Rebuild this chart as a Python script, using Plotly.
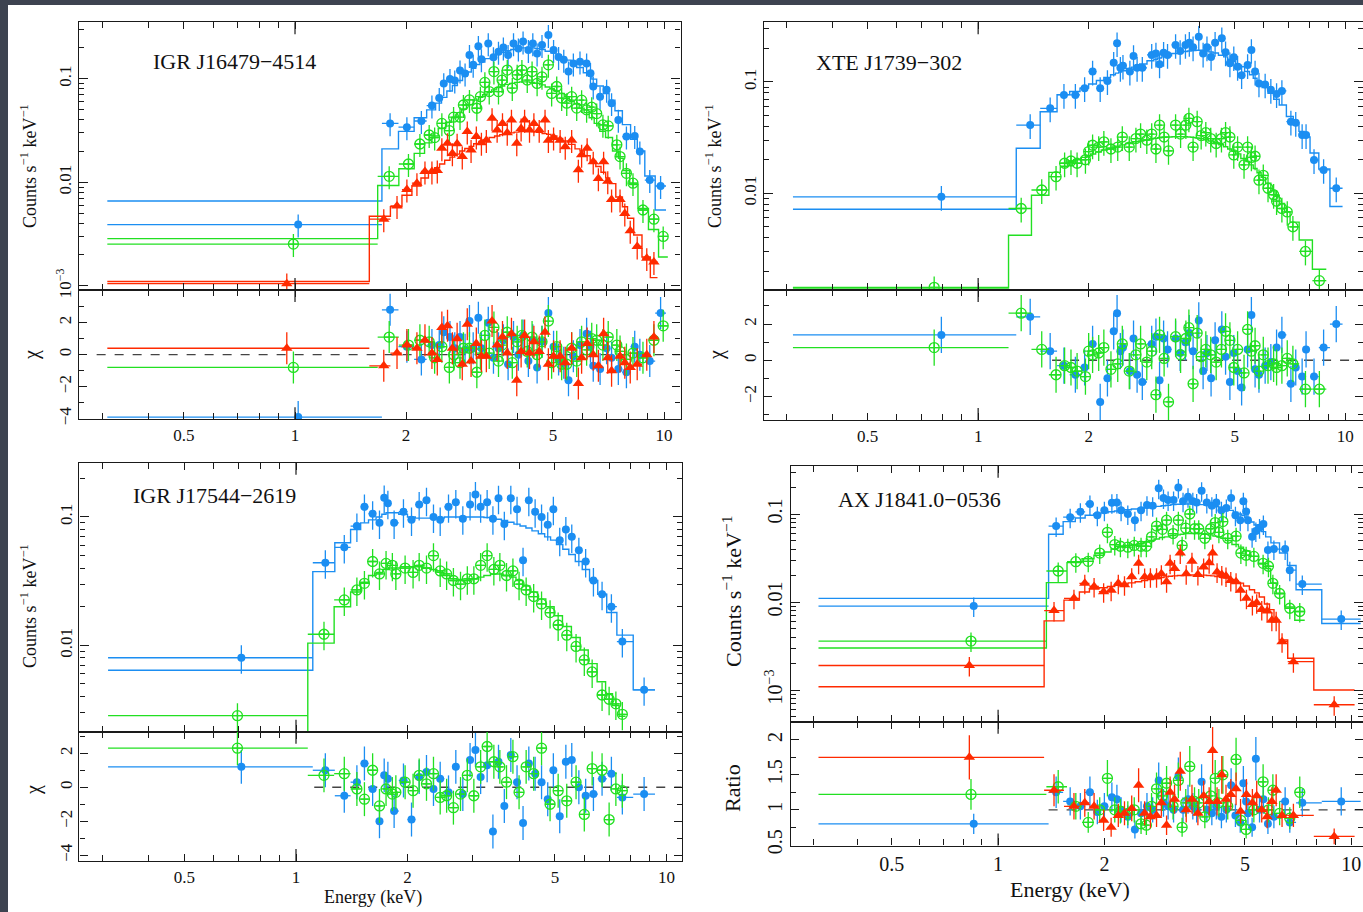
import numpy as np
import plotly.graph_objects as go

W, H = 1363, 912
FONT = "Liberation Serif"
BLUE = "#1b8ef2"
GREEN = "#22e022"
RED = "#ff2a00"
INK = "#1a1a1a"

# ---------------- Panel A : IGR J16479-4514 ----------------
A_blue_E = [1.02, 1.81, 2.01, 2.20, 2.35, 2.46, 2.53, 2.63, 2.71, 2.80,
            2.89, 2.97, 3.04, 3.14, 3.20, 3.34, 3.45, 3.56, 3.67, 3.78,
            3.91, 4.03, 4.15, 4.29, 4.41, 4.53, 4.67, 4.86, 5.02, 5.18,
            5.35, 5.51, 5.68, 5.92, 6.17, 6.32, 6.43, 6.71, 6.99, 7.21,
            7.52, 7.91, 8.33, 8.60, 9.15, 9.79]
A_blue_y = [0.0039, 0.037, 0.034, 0.039, 0.055, 0.065, 0.090, 0.099, 0.096, 0.120,
            0.112, 0.169, 0.136, 0.206, 0.154, 0.219, 0.161, 0.182, 0.200, 0.169,
            0.219, 0.195, 0.228, 0.189, 0.219, 0.175, 0.211, 0.264, 0.189, 0.162,
            0.152, 0.117, 0.140, 0.146, 0.140, 0.113, 0.084, 0.067, 0.078, 0.058,
            0.040, 0.0276, 0.028, 0.0198, 0.0105, 0.0092]
A_blue_m = [0.0066, 0.021, 0.031, 0.042, 0.050, 0.058, 0.066, 0.076, 0.086, 0.096,
            0.106, 0.116, 0.126, 0.137, 0.145, 0.156, 0.165, 0.173, 0.180, 0.186,
            0.191, 0.195, 0.198, 0.199, 0.198, 0.195, 0.191, 0.184, 0.177, 0.169,
            0.160, 0.151, 0.141, 0.128, 0.114, 0.106, 0.099, 0.085, 0.072, 0.062,
            0.049, 0.036, 0.026, 0.020, 0.0115, 0.0054]
A_blue_r = [-3.9, 2.8, 0.5, -0.3, 0.6, 0.6, 1.4, 1.1, 0.4, 1.1,
            0.3, 2.1, 0.4, 2.3, 0.4, 2.0, -0.2, 0.4, 0.9, -0.6,
            1.1, 0.0, 1.2, -0.4, 0.9, -0.8, 0.8, 2.6, 0.5, -0.3,
            -0.5, -1.6, -0.1, 0.6, 1.3, 0.5, -0.7, -0.9, 0.4, -0.2,
            -0.9, -1.1, 0.5, 0.0, -0.4, 2.6]
A_blue_bin0 = [0.31, 1.72]

A_green_E = [0.99, 1.80, 2.03, 2.18, 2.31, 2.39, 2.50, 2.62, 2.69, 2.80,
             2.86, 2.97, 3.11, 3.18, 3.27, 3.36, 3.46, 3.56, 3.64, 3.76,
             3.88, 4.00, 4.12, 4.26, 4.39, 4.53, 4.67, 4.86, 4.96, 5.12,
             5.28, 5.45, 5.62, 5.80, 5.98, 6.17, 6.37, 6.57, 6.83, 7.06,
             7.45, 7.60, 7.91, 8.24, 8.77, 9.39, 9.95]
A_green_y = [0.00253, 0.0114, 0.0150, 0.0234, 0.0286, 0.0270, 0.0370, 0.0315, 0.0425, 0.0425,
             0.0557, 0.0623, 0.0518, 0.0670, 0.0920, 0.0750, 0.117, 0.0750, 0.0970, 0.121,
             0.0810, 0.109, 0.121, 0.0970, 0.117, 0.0900, 0.104, 0.136, 0.0720, 0.0840,
             0.0650, 0.0580, 0.0670, 0.0520, 0.0620, 0.0500, 0.0530, 0.0460, 0.0358, 0.0350,
             0.0230, 0.0177, 0.0122, 0.0098, 0.0054, 0.0044, 0.0030]
A_green_m = [0.00286, 0.0093, 0.0135, 0.019, 0.024, 0.028, 0.033, 0.038, 0.042, 0.047,
             0.051, 0.056, 0.062, 0.066, 0.070, 0.074, 0.078, 0.082, 0.085, 0.088,
             0.090, 0.092, 0.093, 0.093, 0.092, 0.090, 0.087, 0.083, 0.080, 0.076,
             0.072, 0.067, 0.062, 0.057, 0.052, 0.047, 0.042, 0.037, 0.031, 0.027,
             0.020, 0.017, 0.013, 0.0095, 0.0056, 0.0035, 0.0019]
A_green_r = [-0.8, 1.1, 0.6, 0.9, 0.8, -0.2, 0.5, -0.8, 0.0, -0.5,
             0.4, 0.4, -1.1, 0.1, 1.2, 0.1, 1.7, -0.4, 0.6, 1.4,
             -0.5, 0.8, 1.2, 0.2, 1.1, 0.0, 0.8, 2.1, -0.5, 0.5,
             -0.6, -0.6, 0.4, -0.4, 0.8, 0.3, 1.0, 0.9, 0.6, 1.1,
             0.6, 0.2, -0.3, 0.1, -0.2, 0.9, 1.8]
A_green_bin0 = [0.31, 1.675]

A_red_E = [0.95, 1.74, 1.89, 2.01, 2.14, 2.25, 2.35, 2.43, 2.50, 2.59,
           2.67, 2.75, 2.84, 2.93, 3.00, 3.10, 3.20, 3.30, 3.42, 3.53,
           3.65, 3.76, 3.86, 3.99, 4.10, 4.19, 4.32, 4.44, 4.59, 4.76,
           4.86, 5.02, 5.23, 5.40, 5.62, 5.86, 5.98, 6.19, 6.43, 6.64,
           6.86, 7.04, 7.21, 7.60, 7.83, 8.10, 8.46, 8.98, 9.39]
A_red_y = [0.00105, 0.0044, 0.0059, 0.0085, 0.0098, 0.0127, 0.0127, 0.0130, 0.0213, 0.0238,
           0.0190, 0.0235, 0.0177, 0.0309, 0.0205, 0.0276, 0.0240, 0.0255, 0.0415, 0.0320,
           0.0370, 0.0300, 0.0400, 0.0238, 0.0330, 0.0400, 0.0320, 0.0370, 0.0320, 0.0400,
           0.0255, 0.0270, 0.0255, 0.0220, 0.0255, 0.0132, 0.0184, 0.0213, 0.0158, 0.0109,
           0.0158, 0.0102, 0.0068, 0.0068, 0.0050, 0.0034, 0.0024, 0.00185, 0.0017]
A_red_m = [0.0011, 0.0047, 0.0058, 0.0075, 0.0092, 0.0110, 0.0125, 0.0138, 0.0150, 0.0163,
           0.0175, 0.0187, 0.0200, 0.0212, 0.0222, 0.0235, 0.0247, 0.0258, 0.0270, 0.0280,
           0.0288, 0.0295, 0.0300, 0.0305, 0.0308, 0.0310, 0.0310, 0.0308, 0.0303, 0.0295,
           0.0290, 0.0280, 0.0265, 0.0250, 0.0232, 0.0210, 0.0200, 0.0180, 0.0160, 0.0142,
           0.0125, 0.0110, 0.0097, 0.0072, 0.0058, 0.0045, 0.0031, 0.0019, 0.0012]
A_red_r = [0.4, -0.7, 0.1, 0.6, 0.4, 0.9, 0.1, -0.3, 1.7, 1.8,
           0.4, 1.0, -0.6, 1.9, -0.4, 0.7, -0.1, -0.1, 2.1, 0.6,
           1.1, 0.1, 1.3, -1.6, 0.2, 1.2, 0.1, 0.8, 0.2, 1.4,
           -0.6, -0.1, -0.1, -0.5, 0.4, -1.8, -0.2, 0.7, 0.0, -0.7,
           1.3, -0.2, -1.0, -0.1, -0.5, -0.8, -0.6, 0.0, 1.1]
A_red_bin0 = [0.31, 1.59]

# ---------------- Panel B : XTE J1739-302 ----------------
B_blue_E = [0.794, 1.386, 1.571, 1.713, 1.840, 1.950, 2.050, 2.150, 2.250, 2.340,
            2.390, 2.440, 2.480, 2.590, 2.650, 2.710, 2.800, 2.970, 3.050, 3.120,
            3.200, 3.280, 3.450, 3.550, 3.670, 3.760, 3.850, 3.990, 4.100, 4.200,
            4.310, 4.420, 4.610, 4.720, 4.850, 4.970, 5.090, 5.220, 5.420, 5.550,
            5.680, 5.820, 6.050, 6.270, 6.500, 6.720, 7.110, 7.330, 7.630, 7.820,
            8.220, 8.730, 9.450]
B_blue_y = [0.0093, 0.041, 0.058, 0.0765, 0.0765, 0.088, 0.124, 0.088, 0.102, 0.149,
            0.223, 0.134, 0.140, 0.124, 0.171, 0.134, 0.134, 0.175, 0.180, 0.144,
            0.183, 0.175, 0.215, 0.190, 0.215, 0.225, 0.205, 0.255, 0.180, 0.205,
            0.168, 0.225, 0.247, 0.185, 0.147, 0.167, 0.137, 0.115, 0.142, 0.194,
            0.124, 0.097, 0.095, 0.085, 0.078, 0.083, 0.044, 0.043, 0.0334, 0.0334,
            0.0199, 0.0162, 0.0111]
B_blue_m = [0.00718, 0.0254, 0.054, 0.077, 0.082, 0.088, 0.096, 0.103, 0.110, 0.116,
            0.120, 0.123, 0.126, 0.132, 0.136, 0.140, 0.145, 0.155, 0.160, 0.164,
            0.168, 0.172, 0.180, 0.184, 0.188, 0.190, 0.192, 0.193, 0.192, 0.190,
            0.186, 0.182, 0.174, 0.168, 0.160, 0.153, 0.145, 0.137, 0.124, 0.116,
            0.108, 0.100, 0.089, 0.079, 0.070, 0.062, 0.049, 0.043, 0.036, 0.032,
            0.023, 0.0165, 0.0076]
B_blue_r = [1.4, 2.4, 0.5, -0.3, -0.8, -0.4, 0.9, -2.3, -1.0, 1.6,
            2.6, 0.5, 0.7, -0.6, 1.2, -0.8, -1.2, 0.9, 1.3, -1.1,
            1.2, 0.6, 1.2, 0.4, 1.0, 1.5, 0.5, 2.2, -0.6, 0.4,
            -1.0, 1.1, 1.7, 0.2, -1.2, 0.4, -0.6, -1.5, 0.6, 2.5,
            -0.5, -0.8, -0.3, -0.1, 0.7, 1.4, -1.3, -0.4, -0.9, 0.6,
            -0.9, 0.7, 2.0]
B_blue_bin0 = [0.313, 1.27]

B_green_E = [0.759, 1.31, 1.49, 1.63, 1.72, 1.79, 1.86, 1.96, 2.00, 2.05,
             2.13, 2.20, 2.30, 2.40, 2.47, 2.58, 2.69, 2.77, 2.88, 2.97,
             3.05, 3.12, 3.21, 3.30, 3.45, 3.56, 3.68, 3.75, 3.85, 3.95,
             4.05, 4.17, 4.30, 4.45, 4.60, 4.72, 4.85, 4.97, 5.09, 5.30,
             5.42, 5.55, 5.68, 5.82, 5.98, 6.16, 6.38, 6.50, 6.72, 6.95,
             7.20, 7.79, 8.50]
B_green_y = [0.00143, 0.0073, 0.0107, 0.0141, 0.0186, 0.0195, 0.0186, 0.0200, 0.0237, 0.0270,
             0.0260, 0.0290, 0.0250, 0.0260, 0.0320, 0.0260, 0.0310, 0.0340, 0.0300, 0.0340,
             0.0250, 0.0410, 0.0320, 0.0240, 0.0410, 0.0340, 0.0410, 0.0470, 0.0260, 0.0440,
             0.0330, 0.0350, 0.0310, 0.0280, 0.0310, 0.0350, 0.0320, 0.0221, 0.0260, 0.0180,
             0.0260, 0.0210, 0.0215, 0.0131, 0.0145, 0.0111, 0.0097, 0.0085, 0.0073, 0.0068,
             0.0050, 0.0030, 0.00164]
B_green_m = [0.00141, 0.0042, 0.0096, 0.0154, 0.0175, 0.0190, 0.0200, 0.0210, 0.0218, 0.0225,
             0.0235, 0.0245, 0.0255, 0.0265, 0.0272, 0.0280, 0.0290, 0.0295, 0.0302, 0.0308,
             0.0312, 0.0315, 0.0318, 0.0320, 0.0322, 0.0323, 0.0322, 0.0320, 0.0318, 0.0314,
             0.0310, 0.0303, 0.0295, 0.0285, 0.0273, 0.0262, 0.0250, 0.0238, 0.0226, 0.0205,
             0.0193, 0.0180, 0.0167, 0.0153, 0.0139, 0.0123, 0.0105, 0.0096, 0.0081, 0.0068,
             0.0055, 0.0038, 0.00208]
B_green_r = [0.7, 2.6, 0.6, -0.8, -0.3, -0.4, -0.6, -0.9, 0.5, 0.3,
             0.4, 0.7, -0.5, -0.2, 0.9, -0.6, 0.3, 0.9, -0.1, 0.5,
             -1.9, 1.4, 0.1, -2.3, 1.3, 0.3, 1.2, 1.8, -1.3, 1.5,
             0.2, 0.6, 0.3, -0.1, 0.6, 1.6, 1.1, -0.4, 0.6, -0.7,
             1.7, 0.5, 0.8, -0.6, 0.3, -0.3, -0.2, -0.4, -0.3, 0.1,
             -0.2, -1.6, -1.6]
B_green_bin0 = [0.313, 1.21]

# ---------------- Panel C : IGR J17544-2619 ----------------
C_blue_E = [0.712, 1.20, 1.35, 1.46, 1.53, 1.61, 1.68, 1.73, 1.77, 1.84,
            1.95, 2.05, 2.15, 2.25, 2.35, 2.45, 2.58, 2.70, 2.82, 2.95,
            3.05, 3.15, 3.28, 3.40, 3.52, 3.65, 3.80, 3.95, 4.10, 4.25,
            4.42, 4.60, 4.78, 4.95, 5.15, 5.35, 5.55, 5.80, 6.05, 6.35,
            6.70, 7.10, 7.60, 8.70]
C_blue_y = [0.0080, 0.044, 0.058, 0.085, 0.120, 0.106, 0.090, 0.141, 0.128, 0.090,
            0.110, 0.095, 0.125, 0.135, 0.100, 0.095, 0.120, 0.130, 0.097, 0.125,
            0.150, 0.120, 0.130, 0.097, 0.140, 0.088, 0.140, 0.115, 0.046, 0.135,
            0.110, 0.100, 0.087, 0.115, 0.066, 0.080, 0.070, 0.055, 0.045, 0.032,
            0.025, 0.020, 0.0107, 0.0045]
C_blue_m = [0.0064, 0.0375, 0.063, 0.080, 0.090, 0.095, 0.100, 0.105, 0.108, 0.108,
            0.105, 0.100, 0.098, 0.098, 0.098, 0.098, 0.100, 0.100, 0.100, 0.100,
            0.100, 0.100, 0.099, 0.098, 0.096, 0.094, 0.091, 0.088, 0.085, 0.082,
            0.078, 0.074, 0.070, 0.066, 0.061, 0.056, 0.051, 0.045, 0.039, 0.032,
            0.025, 0.018, 0.012, 0.0045]
C_blue_r = [1.2, 1.0, -0.5, 0.3, 1.4, -0.1, -2.0, 0.7, 0.5, -1.4,
            0.4, -1.9, 0.6, 0.9, -0.1, 0.5, -0.3, 1.2, -0.4, 1.6,
            2.2, 0.6, 1.3, -2.6, 1.5, -1.1, 1.9, 0.3, -2.1, 1.4,
            0.8, 0.3, -0.7, 1.0, -1.7, 1.5, 1.6, 0.0, -0.5, -0.4,
            0.5, 0.8, -0.6, -0.4]
C_blue_bin0 = [0.311, 1.11]

C_green_E = [0.695, 1.19, 1.35, 1.46, 1.53, 1.61, 1.68, 1.75, 1.82, 1.86,
             1.97, 2.07, 2.15, 2.25, 2.35, 2.45, 2.55, 2.66, 2.78, 2.90,
             3.02, 3.15, 3.28, 3.42, 3.55, 3.70, 3.85, 4.00, 4.18, 4.38,
             4.60, 4.85, 5.10, 5.38, 5.70, 6.00, 6.30, 6.70, 7.00, 7.30,
             7.60]
C_green_y = [0.00283, 0.0122, 0.0226, 0.027, 0.0304, 0.045, 0.036, 0.0435, 0.042, 0.036,
             0.040, 0.037, 0.042, 0.040, 0.050, 0.038, 0.036, 0.032, 0.030, 0.033,
             0.033, 0.042, 0.050, 0.039, 0.042, 0.035, 0.038, 0.030, 0.027, 0.024,
             0.021, 0.018, 0.0144, 0.012, 0.0098, 0.0077, 0.0062, 0.0041, 0.0038, 0.0035,
             0.0029]
C_green_m = [0.0015, 0.0104, 0.020, 0.026, 0.031, 0.035, 0.037, 0.039, 0.040, 0.040,
             0.041, 0.041, 0.041, 0.040, 0.039, 0.037, 0.035, 0.033, 0.032, 0.032,
             0.033, 0.034, 0.035, 0.036, 0.036, 0.035, 0.034, 0.032, 0.029, 0.026,
             0.023, 0.020, 0.017, 0.014, 0.0115, 0.0092, 0.0072, 0.0052, 0.0042, 0.0034,
             0.0028]
C_green_r = [2.3, 0.7, 0.8, -0.1, -0.7, 1.0, -1.1, -0.1, -0.4, -0.3,
             0.3, -0.2, 0.7, 0.2, 0.8, -0.6, -0.5, -1.2, -0.4, 0.7,
             -0.5, 1.2, 2.4, 1.5, 1.2, 0.3, 1.8, -0.3, 1.2, 0.8,
             2.3, -1.0, -0.2, -0.8, 0.3, -1.6, 1.1, 1.0, -1.9, -0.1,
             -0.2]
C_green_bin0 = [0.311, 1.076]

# ---------------- Panel D : AX J1841.0-0536 ----------------
D_blue_E = [0.853, 1.46, 1.60, 1.71, 1.82, 1.91, 2.00, 2.10, 2.17, 2.23,
            2.33, 2.44, 2.54, 2.64, 2.74, 2.85, 2.94, 3.03, 3.14, 3.24,
            3.34, 3.45, 3.56, 3.65, 3.77, 3.90, 4.03, 4.15, 4.29, 4.43,
            4.57, 4.70, 4.85, 4.95, 5.04, 5.10, 5.24, 5.37, 5.50, 5.64,
            5.81, 6.04, 6.50, 6.70, 7.27, 9.37]
D_blue_y = [0.0090, 0.073, 0.092, 0.106, 0.130, 0.097, 0.110, 0.134, 0.135, 0.110,
            0.100, 0.085, 0.110, 0.127, 0.124, 0.196, 0.152, 0.144, 0.144, 0.200,
            0.140, 0.157, 0.140, 0.135, 0.184, 0.135, 0.124, 0.135, 0.110, 0.117,
            0.152, 0.097, 0.085, 0.140, 0.107, 0.085, 0.055, 0.064, 0.070, 0.077,
            0.039, 0.040, 0.040, 0.023, 0.016, 0.0064]
D_blue_m = [0.011, 0.059, 0.082, 0.090, 0.097, 0.100, 0.103, 0.106, 0.108, 0.110,
            0.112, 0.114, 0.116, 0.118, 0.120, 0.122, 0.124, 0.126, 0.128, 0.129,
            0.130, 0.130, 0.130, 0.129, 0.128, 0.126, 0.124, 0.121, 0.118, 0.114,
            0.110, 0.105, 0.100, 0.096, 0.092, 0.088, 0.081, 0.075, 0.069, 0.063,
            0.055, 0.047, 0.036, 0.026, 0.0138, 0.0057]
D_blue_r = [0.80, 1.25, 1.12, 1.05, 1.25, 0.97, 1.05, 1.18, 1.15, 1.00,
            0.90, 0.72, 0.95, 1.05, 1.00, 1.42, 1.10, 1.05, 1.00, 1.48,
            1.00, 1.15, 1.05, 1.00, 1.40, 1.00, 0.95, 1.05, 0.90, 1.00,
            1.35, 0.92, 0.82, 1.38, 1.12, 0.95, 0.75, 1.73, 1.00, 1.15,
            0.80, 0.90, 1.12, 0.82, 1.10, 1.12]
D_blue_bin0 = [0.31, 1.39]

D_green_E = [0.838, 1.48, 1.66, 1.80, 1.94, 2.04, 2.14, 2.22, 2.33, 2.43,
             2.54, 2.63, 2.72, 2.81, 2.92, 3.00, 3.13, 3.24, 3.32, 3.40,
             3.49, 3.60, 3.70, 3.85, 4.00, 4.12, 4.22, 4.33, 4.47, 4.72,
             4.87, 5.04, 5.30, 5.63, 5.83, 6.00, 6.27, 6.70, 7.15]
D_green_y = [0.0036, 0.0225, 0.0287, 0.029, 0.036, 0.062, 0.045, 0.043, 0.042, 0.044,
             0.043, 0.043, 0.055, 0.073, 0.067, 0.085, 0.060, 0.085, 0.044, 0.069,
             0.100, 0.068, 0.068, 0.053, 0.068, 0.080, 0.062, 0.082, 0.053, 0.056,
             0.036, 0.034, 0.033, 0.0275, 0.0255, 0.0163, 0.0125, 0.0085, 0.0078]
D_green_m = [0.0030, 0.0166, 0.028, 0.031, 0.034, 0.037, 0.040, 0.042, 0.044, 0.045,
             0.046, 0.048, 0.050, 0.052, 0.054, 0.055, 0.057, 0.058, 0.059, 0.060,
             0.060, 0.060, 0.060, 0.059, 0.058, 0.056, 0.055, 0.053, 0.050, 0.045,
             0.042, 0.038, 0.033, 0.027, 0.024, 0.0165, 0.0125, 0.0088, 0.0062]
D_green_r = [1.22, 1.33, 1.05, 0.82, 1.00, 1.45, 1.00, 0.98, 0.95, 1.00,
             0.80, 0.78, 1.05, 1.30, 1.20, 1.38, 1.05, 1.42, 0.75, 1.10,
             1.62, 1.12, 1.10, 0.90, 1.20, 1.45, 1.10, 1.50, 1.05, 1.72,
             0.85, 0.72, 1.00, 1.40, 1.00, 1.28, 0.95, 0.88, 1.25]
D_green_bin0 = [0.31, 1.37]

D_red_E = [0.829, 1.44, 1.64, 1.76, 1.87, 1.99, 2.09, 2.19, 2.28, 2.39,
           2.50, 2.60, 2.70, 2.81, 2.90, 3.00, 3.07, 3.16, 3.28, 3.41,
           3.54, 3.68, 3.82, 3.96, 4.05, 4.17, 4.30, 4.42, 4.56, 4.72,
           4.86, 5.05, 5.25, 5.40, 5.58, 5.78, 5.96, 6.13, 6.37, 6.86,
           8.95]
D_red_y = [0.0019, 0.0080, 0.0110, 0.0163, 0.0150, 0.0131, 0.0136, 0.0163, 0.0157, 0.0194,
           0.0275, 0.0192, 0.0194, 0.0194, 0.0210, 0.0170, 0.0275, 0.0240, 0.0360, 0.0210,
           0.0290, 0.0205, 0.0250, 0.0280, 0.0360, 0.0220, 0.0205, 0.0198, 0.0176, 0.0170,
           0.0136, 0.0110, 0.0094, 0.0098, 0.0082, 0.0079, 0.0062, 0.0062, 0.00354, 0.0021,
           0.00068]
D_red_m = [0.00109, 0.0061, 0.0105, 0.0130, 0.0140, 0.0145, 0.0150, 0.0155, 0.0160, 0.0165,
           0.0170, 0.0175, 0.0180, 0.0185, 0.0190, 0.0193, 0.0196, 0.0198, 0.0200, 0.0202,
           0.0203, 0.0203, 0.0202, 0.0200, 0.0198, 0.0195, 0.0191, 0.0187, 0.0181, 0.0173,
           0.0164, 0.0152, 0.0138, 0.0127, 0.0114, 0.0095, 0.0082, 0.0062, 0.0037, 0.0023,
           0.0010]
D_red_r = [1.75, 1.28, 1.05, 1.10, 1.05, 0.85, 0.75, 0.92, 0.95, 1.02,
           1.35, 0.95, 0.90, 0.92, 1.10, 0.78, 1.25, 1.15, 1.55, 1.00,
           1.15, 0.95, 1.20, 1.12, 1.85, 1.12, 1.50, 1.15, 1.22, 1.30,
           0.98, 1.22, 1.10, 1.20, 1.00, 0.90, 1.12, 1.28, 0.92, 0.92,
           0.62]
D_red_bin0 = [0.31, 1.35]

# axis tick labels
X_TICKS = [0.5, 1, 2, 5, 10]
X_TICKTEXT = ["0.5", "1", "2", "5", "10"]
X_MINOR = [0.3, 0.4, 0.6, 0.7, 0.8, 0.9, 3, 4, 6, 7, 8, 9]
X_DECADES = [1, 10]
Y_LOG_TICKS = [0.001, 0.01, 0.1]
Y_LOG_TEXT = ["10<sup>\u22123</sup>", "0.01", "0.1"]
CHI_TICKS = [-4, -2, 0, 2]
CHI_TEXT = ["\u22124", "\u22122", "0", "2"]
CHI_MINOR = [-3, -1, 1, 3]
RATIO_TICKS = [0.5, 1, 1.5, 2]
RATIO_TEXT = ["0.5", "1", "1.5", "2"]
RATIO_MINOR = [0.75, 1.25, 1.75, 2.25]


def bin_edges(E, bin0):
    e = [bin0[0], bin0[1]]
    for i in range(1, len(E) - 1):
        e.append(float(np.sqrt(E[i] * E[i + 1])))
    e.append(E[-1] ** 2 / e[-1])
    return e


def log_minor():
    vals = []
    for d in range(-4, 1):
        for k in range(2, 10):
            vals.append(k * 10.0 ** d)
    return vals


fig = go.Figure()

STY = {
    "blue": dict(color=BLUE, symbol="circle", size=8, line=dict(width=0)),
    "green": dict(color=GREEN, symbol="circle-cross-open", size=10, line=dict(width=1.3, color=GREEN)),
    "red": dict(color=RED, symbol="triangle-up", size=10, line=dict(width=0)),
}


def add_series(k, E, y, m, r, bin0, name, ratio=False):
    assert len(E) == len(y) == len(m) == len(r), name
    col = STY[name]["color"]
    e = bin_edges(E, bin0)
    lo = [E[i] - e[i] for i in range(len(E))]
    hi = [e[i + 1] - E[i] for i in range(len(E))]
    xa, ya = ("x%d" % k if k > 1 else "x"), ("y%d" % k if k > 1 else "y")
    xb, yb = "x%d" % (k + 1), "y%d" % (k + 1)
    ex = dict(type="data", symmetric=False, array=hi, arrayminus=lo,
              color=col, thickness=1.3, width=0)
    fig.add_trace(go.Scatter(x=e, y=list(m) + [m[-1]], mode="lines",
                             line=dict(color=col, width=1.4, shape="hv"),
                             xaxis=xa, yaxis=ya, hoverinfo="skip", showlegend=False))
    fig.add_trace(go.Scatter(x=E, y=y, mode="markers", marker=STY[name],
                             error_x=ex,
                             error_y=dict(type="percent", value=25, color=col, thickness=1.3, width=0),
                             xaxis=xa, yaxis=ya, showlegend=False))
    if ratio:
        ey = dict(type="percent", value=18, color=col, thickness=1.3, width=0)
    else:
        ey = dict(type="constant", value=1.0, color=col, thickness=1.3, width=0)
    fig.add_trace(go.Scatter(x=E, y=r, mode="markers", marker=STY[name],
                             error_x=ex, error_y=ey,
                             xaxis=xb, yaxis=yb, showlegend=False))


def add_zero(k, x0, x1, yv):
    fig.add_trace(go.Scatter(x=[x0, x1], y=[yv, yv], mode="lines",
                             line=dict(color="#444444", width=1.3, dash="dash"),
                             xaxis="x%d" % k, yaxis="y%d" % k, hoverinfo="skip", showlegend=False))


# panel geometry (pixels)
panels = [
    dict(k=1, x0=79, x1=680.5, yt=22.3, ys=290, yb=419.3, xr=[-0.5854, 1.0447],
         yr=[-3.04, -0.456], rr=[-4.04, 4.04], fs=17, ratio=False, dash0=0.29),
    dict(k=3, x0=764.3, x1=1363, yt=22.3, ys=290, yb=420, xr=[-0.5825, 1.0483],
         yr=[-2.869, -0.464], rr=[-3.30, 3.88], fs=17, ratio=False, dash0=1.59),
    dict(k=5, x0=79.4, x1=681.7, yt=462.7, ys=731.7, yb=861, xr=[-0.5846, 1.041],
         yr=[-2.673, -0.577], rr=[-4.34, 3.27], fs=17, ratio=False, dash0=1.12),
    dict(k=7, x0=791, x1=1363, yt=465.7, ys=721.7, yb=845.5, xr=[-0.5865, 1.0334],
         yr=[-3.36, -0.451], rr=[0.49, 2.26], fs=20, ratio=True, dash0=1.39),
]

add_zero(2, panels[0]["dash0"], 10 ** panels[0]["xr"][1], 0)
add_zero(4, panels[1]["dash0"], 10 ** panels[1]["xr"][1], 0)
add_zero(6, panels[2]["dash0"], 10 ** panels[2]["xr"][1], 0)
add_zero(8, panels[3]["dash0"], 10 ** panels[3]["xr"][1], 1)

add_series(1, A_blue_E, A_blue_y, A_blue_m, A_blue_r, A_blue_bin0, "blue")
add_series(1, A_green_E, A_green_y, A_green_m, A_green_r, A_green_bin0, "green")
add_series(1, A_red_E, A_red_y, A_red_m, A_red_r, A_red_bin0, "red")
add_series(3, B_blue_E, B_blue_y, B_blue_m, B_blue_r, B_blue_bin0, "blue")
add_series(3, B_green_E, B_green_y, B_green_m, B_green_r, B_green_bin0, "green")
add_series(5, C_blue_E, C_blue_y, C_blue_m, C_blue_r, C_blue_bin0, "blue")
add_series(5, C_green_E, C_green_y, C_green_m, C_green_r, C_green_bin0, "green")
add_series(7, D_blue_E, D_blue_y, D_blue_m, D_blue_r, D_blue_bin0, "blue", ratio=True)
add_series(7, D_green_E, D_green_y, D_green_m, D_green_r, D_green_bin0, "green", ratio=True)
add_series(7, D_red_E, D_red_y, D_red_m, D_red_r, D_red_bin0, "red", ratio=True)

layout = {}
common = dict(showline=True, linecolor=INK, linewidth=1.2, mirror="ticks",
              ticks="inside", tickwidth=1.1, tickcolor=INK, showgrid=False, zeroline=False)
YMINOR = log_minor()
shapes = [
    dict(type="rect", xref="paper", yref="paper", x0=8 / W, x1=1, y0=0, y1=1 - 5 / H,
         fillcolor="white", line=dict(width=0), layer="below"),
]
for p in panels:
    k = p["k"]
    fs = p["fs"]
    xd = [p["x0"] / W, p["x1"] / W]
    top_d = [1 - p["ys"] / H, 1 - p["yt"] / H]
    bot_d = [1 - p["yb"] / H, 1 - p["ys"] / H]
    tf = dict(family=FONT, size=fs, color="#111111")
    for kk, dom, labels, hpx in ((k, top_d, False, p["ys"] - p["yt"]),
                                 (k + 1, bot_d, True, p["yb"] - p["ys"])):
        layout["xaxis%d" % kk] = dict(
            common, domain=xd, type="log", range=p["xr"], anchor="y%d" % kk,
            tickmode="array", tickvals=X_TICKS, ticktext=X_TICKTEXT, ticklen=7,
            showticklabels=labels, tickfont=tf,
            minor=dict(tickmode="array", tickvals=X_MINOR, ticks="inside", ticklen=6,
                       tickwidth=1.1, tickcolor=INK, showgrid=False))
        # longer ticks at the decades (1 and 10 keV), top and bottom edges
        xr_name = "x" if kk == 1 else "x%d" % kk
        yr_name = ("y" if kk == 1 else "y%d" % kk) + " domain"
        f = 12.0 / hpx
        for dv in X_DECADES:
            lv = float(np.log10(dv))
            for y0, y1 in ((0, f), (1 - f, 1)):
                shapes.append(dict(type="line", xref=xr_name, yref=yr_name,
                                   x0=lv, x1=lv, y0=y0, y1=y1,
                                   line=dict(color=INK, width=1.2), layer="above"))
    layout["yaxis%d" % k] = dict(
        common, domain=top_d, type="log", range=p["yr"], anchor="x%d" % k,
        tickmode="array", tickvals=Y_LOG_TICKS, ticktext=Y_LOG_TEXT, ticklen=9,
        tickangle=-90, tickfont=tf,
        minor=dict(tickmode="array", tickvals=YMINOR, ticks="inside", ticklen=5,
                   tickwidth=1.0, tickcolor=INK, showgrid=False))
    if p["ratio"]:
        tv, tt, mv = RATIO_TICKS, RATIO_TEXT, RATIO_MINOR
    else:
        tv, tt, mv = CHI_TICKS, CHI_TEXT, CHI_MINOR
    layout["yaxis%d" % (k + 1)] = dict(
        common, domain=bot_d, range=p["rr"], anchor="x%d" % (k + 1),
        tickmode="array", tickvals=tv, ticktext=tt, ticklen=8,
        tickangle=-90, tickfont=tf,
        minor=dict(tickmode="array", tickvals=mv, ticks="inside", ticklen=5,
                   tickwidth=1.0, tickcolor=INK, showgrid=False))

layout["xaxis"] = layout.pop("xaxis1")
layout["yaxis"] = layout.pop("yaxis1")
layout["xaxis"]["anchor"] = "y"
layout["yaxis"]["anchor"] = "x"


def ann(text, px, py, size, angle=0):
    return dict(text=text, x=px / W, y=1 - py / H, xref="paper", yref="paper",
                showarrow=False, xanchor="center", yanchor="middle", textangle=angle,
                font=dict(family=FONT, size=size, color="#111111"))


COUNTS = "Counts s<sup>\u22121</sup> keV<sup>\u22121</sup>"
annotations = [
    ann("IGR J16479\u22124514", 234, 61, 22),
    ann("XTE J1739\u2212302", 889, 63, 22),
    ann("IGR J17544\u22122619", 214, 495, 22),
    ann("AX J1841.0\u22120536", 919, 499, 22),
    ann(COUNTS, 28, 166, 18, -90),
    ann("\u03c7", 32, 355, 20, -90),
    ann(COUNTS, 713, 166, 18, -90),
    ann("\u03c7", 717, 355, 20, -90),
    ann(COUNTS, 28, 606, 18, -90),
    ann("\u03c7", 33, 790, 20, -90),
    ann(COUNTS, 732, 592, 22, -90),
    ann("Ratio", 732, 788, 22, -90),
    ann("Energy (keV)", 373, 897, 18),
    ann("Energy (keV)", 1070, 889, 22),
]

fig.update_layout(
    width=W, height=H, margin=dict(l=0, r=0, t=0, b=0, pad=0, autoexpand=False),
    paper_bgcolor="#3d4350", plot_bgcolor="white",
    font=dict(family=FONT, color="#111111"),
    annotations=annotations, shapes=shapes, showlegend=False,
    **layout,
)

fig.write_html("out.html", include_plotlyjs=True, full_html=True,
               config={"displayModeBar": False},
               post_script="document.body.style.margin='0';document.body.style.overflow='hidden';")
